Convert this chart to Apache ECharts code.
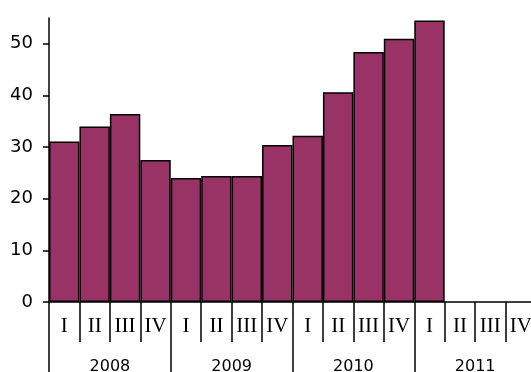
<!DOCTYPE html>
<html>
<head>
<meta charset="utf-8">
<script src="https://cdn.jsdelivr.net/npm/echarts@6/dist/echarts.min.js"></script>
<style>
  html, body { margin: 0; padding: 0; background: #fff; }
  #main { width: 531px; height: 372px; }
</style>
</head>
<body>
<div id="main"></div>
<script>
var quarters = ['I', 'II', 'III', 'IV', 'I', 'II', 'III', 'IV', 'I', 'II', 'III', 'IV', 'I', 'II', 'III', 'IV'];
var years = ['2008', '2009', '2010', '2011'];
var values = [31.1, 34.0, 36.4, 27.5, 24.0, 24.4, 24.4, 30.4, 32.2, 40.6, 48.4, 51.0, 54.5, null, null, null];
var yTicks = [0, 10, 20, 30, 40, 50];

var myChart = echarts.init(document.getElementById('main'));

var option = {
	animation : false,
	grid : {
		left : 49,
		right : -5,
		top : 18,
		bottom : 70,
		outerBoundsMode : 'none'
	},
	xAxis : [ {
		type : 'category',
		data : quarters,
		position : 'bottom',
		axisLine : {
			show : true,
			lineStyle : { color : '#000', width : 1.5 }
		},
		axisTick : {
			show : true,
			interval : 0,
			alignWithLabel : false,
			length : 40,
			lineStyle : { color : '#000', width : 1.5 }
		},
		axisLabel : {
			interval : 0,
			margin : 14,
			color : '#000',
			fontFamily : 'Liberation Serif',
			fontSize : 21
		}
	}, {
		type : 'category',
		data : years,
		position : 'bottom',
		axisLine : { show : false },
		axisTick : {
			show : true,
			interval : 0,
			alignWithLabel : false,
			length : 80,
			lineStyle : { color : '#000', width : 1.5 }
		},
		axisLabel : {
			interval : 0,
			margin : 57,
			color : '#000',
			fontFamily : 'DejaVu Sans',
			fontSize : 16
		}
	} ],
	yAxis : {
		type : 'value',
		min : 0,
		max : 55,
		interval : 10,
		splitLine : { show : false },
		axisLine : {
			show : true,
			lineStyle : { color : '#000', width : 1.5 }
		},
		axisTick : {
			show : true,
			length : 6,
			customValues : yTicks,
			lineStyle : { color : '#000', width : 1.5 }
		},
		axisLabel : {
			margin : 16,
			color : '#000',
			fontFamily : 'DejaVu Sans',
			fontSize : 18,
			customValues : yTicks
		}
	},
	series : [ {
		type : 'bar',
		data : values,
		xAxisIndex : 0,
		barCategoryGap : '0%',
		itemStyle : {
			color : '#993366',
			borderColor : '#000',
			borderWidth : 1.5
		}
	} ]
};
myChart.setOption(option);
</script>
</body>
</html>
